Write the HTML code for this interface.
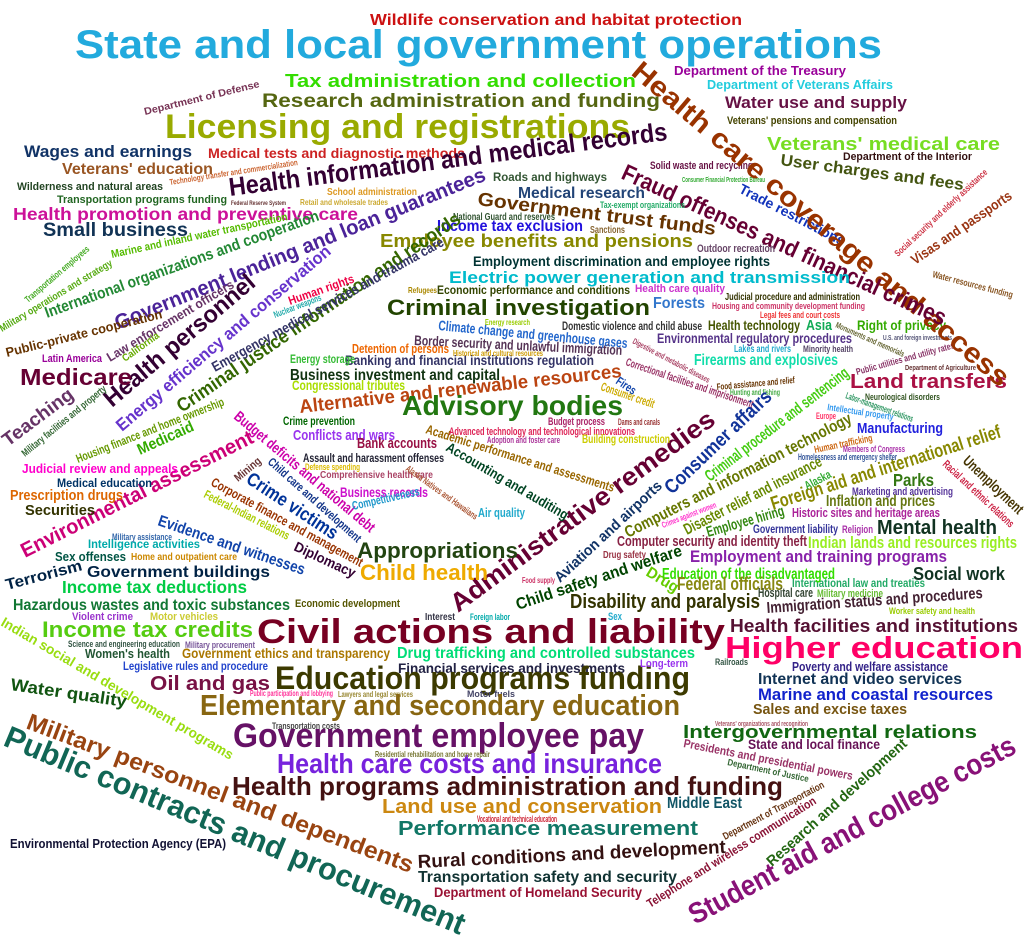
<!DOCTYPE html>
<html><head><meta charset="utf-8">
<style>
html,body{margin:0;padding:0;background:#fff;}
svg{display:block;}
text{font-family:"Liberation Sans","DejaVu Sans",sans-serif;font-weight:bold;}
</style></head>
<body>
<svg id="cloud" width="1024" height="947" viewBox="0 0 1024 947" xmlns="http://www.w3.org/2000/svg">
<rect width="1024" height="947" fill="#fff"/>
<g id="words"></g>
</svg>
<script>
// words, weights (font size), colors, and layout (baseline start/end)
const words = [
"State and local government operations","Wildlife conservation and habitat protection","Tax administration and collection","Research administration and funding","Licensing and registrations","Department of Defense","Wages and earnings","Veterans' education","Medical tests and diagnostic methods","Wilderness and natural areas","Transportation programs funding","Technology transfer and commercialization","Health promotion and preventive care","Small business","School administration","Retail and wholesale trades","Federal Reserve System","Marine and inland water transportation","Health information and medical records","Government lending and loan guarantees",
"Department of the Treasury","Department of Veterans Affairs","Water use and supply","Veterans' pensions and compensation","Veterans' medical care","Department of the Interior","User charges and fees","Solid waste and recycling","Trade restrictions","Social security and elderly assistance","Visas and passports","Water resources funding","Land transfers","Right of privacy","Asia","Judicial procedure and administration","Housing and community development funding","Legal fees and court costs","Lakes and rivers","Minority health",
"Public utilities and utility rates","Monuments and memorials","U.S. and foreign investments","Department of Agriculture","Neurological disorders","Food assistance and relief","Hunting and fishing","Correctional facilities and imprisonment","Digestive and metabolic diseases","Consumer credit","Fires","Labor-management relations","Intellectual property","Health care coverage and access","Fraud offenses and financial crimes","Government trust funds","Employee benefits and pensions","Medical research","Income tax exclusion","Roads and highways",
"Electric power generation and transmission","Employment discrimination and employee rights","Economic performance and conditions","Health care quality","Forests","Climate change and greenhouse gases","Domestic violence and child abuse","Health technology","Border security and unlawful immigration","Banking and financial institutions regulation","Environmental regulatory procedures","Firearms and explosives","Criminal investigation","Business investment and capital","Congressional tributes","Energy storage","Detention of persons","Outdoor recreation","Tax-exempt organizations","National Guard and reserves",
"Sanctions","Consumer Financial Protection Bureau","International organizations and cooperation","Health personnel","Energy efficiency and conservation","Criminal justice information and records","Public-private cooperation","Law enforcement officers","Military operations and strategy","Transportation employees","Emergency medical services and trauma care","Medicare","Teaching","Military facilities and property","Housing finance and home ownership","Medicaid","Environmental assessment","Judicial review and appeals","Medical education","Prescription drugs",
"Securities","Terrorism","Government buildings","Income tax deductions","Sex offenses","Home and outpatient care","Intelligence activities","Military assistance","Evidence and witnesses","Diplomacy","Crime victims","Child care and development","Budget deficits and national debt","Corporate finance and management","Federal-Indian relations","Conflicts and wars","Bank accounts","Assault and harassment offenses","Comprehensive health care","Business records",
"Competitiveness","Alaska Natives and Hawaiians","Human rights","Nuclear weapons","Latin America","California","Crime prevention","Defense spending","Alternative and renewable resources","Advisory bodies","Administrative remedies","Consumer affairs","Criminal procedure and sentencing","Computers and information technology","Disaster relief and insurance","Aviation and airports","Child safety and welfare","Accounting and auditing","Academic performance and assessments","Advanced technology and technological innovations",
"Budget process","Building construction","Adoption and foster care","Dams and canals","Air quality","Foreign aid and international relief","Parks","Marketing and advertising","Inflation and prices","Historic sites and heritage areas","Mental health","Indian lands and resources rights","Government liability","Employment and training programs","Social work","International law and treaties","Unemployment","Racial and ethnic relations","Manufacturing","Human trafficking",
"Members of Congress","Homelessness and emergency shelter","Employee hiring","Alaska","Education of the disadvantaged","Federal officials","Drug","Disability and paralysis","Immigration status and procedures","Hospital care","Military medicine","Computer security and identity theft","Drug safety","Appropriations","Child health","Hazardous wastes and toxic substances","Economic development","Violent crime","Motor vehicles","Income tax credits",
"Civil actions and liability","Science and engineering education","Military procurement","Women's health","Government ethics and transparency","Drug trafficking and controlled substances","Legislative rules and procedure","Financial services and investments","Oil and gas","Education programs funding","Water quality","Indian social and development programs","Public participation and lobbying","Lawyers and legal services","Motor fuels","Elementary and secondary education","Transportation costs","Government employee pay","Health care costs and insurance","Health programs administration and funding",
"Residential rehabilitation and home repair","Land use and conservation","Vocational and technical education","Performance measurement","Rural conditions and development","Transportation safety and security","Department of Homeland Security","Environmental Protection Agency (EPA)","Public contracts and procurement","Military personnel and dependents","Health facilities and institutions","Higher education","Poverty and welfare assistance","Internet and video services","Marine and coastal resources","Sales and excise taxes","Railroads","Long-term","Intergovernmental relations","State and local finance",
"Veterans' organizations and recognition","Middle East","Student aid and college costs","Research and development","Telephone and wireless communication","Department of Transportation","Presidents and presidential powers","Department of Justice","Interest","Foreign labor","Sex","Food supply","Worker safety and health","Europe","Religion","Crimes against women","Mining","Energy research","Historical and cultural resources","Refugees"
];
const weights = [
46,17,22,23,40,11,19,17,15,12,12,9,20,23,11,9,7,12,30,24,
14,14,19,12,22,12,19,12,15,10,15,10,24,15,16,11,10,10,11,10,
10,9,8,8,10,10,9,12,9,13,13,10,10,32,27,22,21,17,17,13,
19,15,13,12,17,15,13,15,15,15,15,18,26,17,15,13,14,12,10,11,
11,8,17,28,20,22,14,14,11,10,15,27,22,11,13,18,24,14,13,16,
16,18,18,20,14,11,13,10,17,15,22,13,16,14,13,16,16,13,11,15,
13,10,13,10,12,11,13,10,22,32,30,23,19,19,17,16,19,15,14,12,
12,13,10,10,14,22,20,12,17,14,24,19,13,19,21,13,16,12,16,11,
10,10,16,13,18,21,18,24,17,14,12,16,11,26,26,18,12,12,12,26,
40,10,10,14,15,17,13,15,24,38,20,15,9,9,10,33,10,40,32,30,
9,24,10,24,22,18,15,14,36,27,21,36,14,18,19,16,10,12,22,15,
8,17,34,16,13,11,13,10,11,10,12,9,10,10,12,9,12,9,9,9
];
const colors = [
"#22aadd","#cc1111","#33dd00","#556611","#99aa00","#773355","#113366","#995522","#cc2222","#224422","#226622","#cc6633","#cc1199","#113355","#dd9922","#ccaa33","#663333","#55bb00","#330033","#4b2399",
"#990099","#22ccdd","#661144","#444400","#77dd22","#331111","#445511","#661144","#1133bb","#cc3344","#993311","#885522","#aa1144","#33aa00","#11aa55","#333300","#cc3366","#ee3333","#22aacc","#554466",
"#883366","#666633","#555577","#663333","#335522","#663300","#44aa44","#993366","#aa4466","#ccaa00","#1144aa","#339966","#3399ee","#993300","#660033","#663300","#888800","#224477","#2211dd","#335533",
"#00bbcc","#003333","#334400","#cc33cc","#3377cc","#2266cc","#333333","#445500","#553355","#333366","#553388","#11ddaa","#224400","#113311","#aadd00","#33bb33","#ee6600","#664466","#22aa66","#335533",
"#886633","#33aa33","#228833","#330033","#6633cc","#336600","#663300","#663366","#55aa11","#44aa22","#333366","#660033","#663366","#336633","#669900","#33aa00","#cc0077","#ff00cc","#003366","#dd6600",
"#333300","#002244","#002244","#00cc44","#005544","#cc8800","#00aaaa","#3366aa","#1144aa","#330033","#003399","#113388","#cc00aa","#993300","#aacc00","#9933ee","#991144","#222233","#aa4466","#cc11cc",
"#2299cc","#aa5533","#ee0044","#22aaaa","#990099","#66aa00","#006600","#ddbb00","#bb4411","#227711","#660033","#113399","#44cc11","#667700","#668800","#113366","#004400","#004422","#996600","#dd2255",
"#aa2266","#cccc00","#aa3399","#993333","#22aacc","#888800","#337711","#553399","#667711","#aa2299","#113322","#99ee22","#333399","#8822aa","#113322","#22aa66","#443300","#cc2244","#2222dd","#cc6611",
"#aa33aa","#335599","#338811","#33aa33","#33dd00","#888811","#66cc00","#333300","#442233","#334433","#66bb33","#882244","#993344","#224411","#eeaa00","#117733","#555500","#9933cc","#cccc33","#55cc11",
"#770022","#335544","#775599","#225533","#aa7700","#00dd77","#2244cc","#222244","#771144","#3c3a00","#115511","#99dd11","#ff3399","#998833","#444466","#886611","#444444","#661166","#7722dd","#441111",
"#777733","#cc8811","#cc2233","#117766","#331111","#113333","#991133","#111133","#116655","#994411","#551133","#ff0066","#332288","#113355","#1122cc","#775511","#335544","#9933ee","#116611","#661155",
"#aa5566","#115566","#881177","#226611","#881133","#663311","#993366","#336633","#333344","#00aaaa","#22aacc","#cc3366","#99cc00","#ff3366","#aa33aa","#ff33cc","#663333","#99cc00","#cc9900","#aa8800"
];
// layout: [x1, y1, x2, y2] baseline start/end
const layout = [
[75,58,882,58],[370,25,742,25],[285,87,636,87],[262,107,660,107],[165,138,630,138],[145,115,260,87],[24,157,192,157],[62,174,213,174],[208,158,465,158],[17,190,163,190],[57,203,227,203],[170,185,298,165],[13,220,358,220],[43,236,188,236],[327,195,417,195],[300,205,388,205],[231,205,286,205],[112,258,288,220],[230,196,668,140],[118,330,487,180],
[674,75,846,75],[707,89,893,89],[725,108,907,108],[727,124,897,124],[767,150,1000,150],[843,160,972,160],[780,165,963,190],[650,169,753,169],[738,192,842,246],[898,257,988,173],[915,265,1013,198],[932,277,1012,298],[850,388,1007,388],[857,330,946,330],[806,330,832,330],[725,300,860,300],[712,309,865,309],[760,318,840,318],[734,352,791,352],[803,352,853,352],
[857,375,955,348],[835,327,903,357],[883,340,952,340],[905,370,976,370],[865,400,940,400],[717,390,795,383],[730,395,780,395],[625,365,752,408],[632,343,708,383],[600,390,653,408],[615,383,633,395],[845,398,912,422],[827,410,893,420],[630,74,1000,388],[620,178,942,326],[477,205,715,235],[380,247,693,247],[518,198,645,198],[437,231,583,231],[493,181,607,181],
[449,283,850,283],[473,266,770,266],[437,294,630,294],[635,292,725,292],[653,308,705,308],[438,330,627,348],[562,330,702,330],[708,330,800,330],[414,345,622,355],[345,365,594,365],[657,343,852,343],[694,365,838,365],[387,315,650,315],[290,380,500,380],[292,390,405,390],[290,363,355,363],[352,353,449,353],[697,252,775,252],[600,208,685,208],[453,220,555,220],
[590,233,625,233],[682,182,765,182],[47,318,320,220],[112,408,257,285],[122,432,332,253],[182,413,462,222],[7,357,163,318],[110,362,235,287],[2,332,113,265],[28,303,90,250],[215,372,445,245],[20,385,132,385],[8,447,75,397],[25,457,107,390],[78,463,225,405],[140,455,195,430],[25,558,255,442],[22,473,178,473],[57,487,152,487],[10,500,123,500],
[25,515,95,515],[7,590,83,570],[87,577,270,577],[62,593,247,593],[55,561,126,561],[131,560,237,560],[88,548,200,548],[112,540,172,540],[157,525,303,575],[293,550,353,578],[245,482,333,540],[267,463,357,543],[233,418,370,533],[210,485,360,567],[203,497,287,540],[293,440,395,440],[357,448,437,448],[303,462,444,462],[320,478,433,478],[340,497,428,497],
[353,510,420,495],[405,470,475,520],[290,305,355,282],[275,318,322,300],[42,362,102,362],[125,362,160,337],[283,425,355,425],[305,470,360,470],[300,413,622,377],[402,415,623,415],[458,613,717,423],[672,495,773,398],[710,482,850,375],[628,538,853,422],[687,535,823,465],[560,583,663,487],[518,610,683,555],[445,450,565,520],[425,433,613,492],[449,435,635,435],
[548,425,605,425],[582,443,670,443],[487,443,560,443],[618,425,660,425],[478,517,525,517],[773,510,1002,437],[893,486,934,486],[852,495,953,495],[826,506,935,506],[792,517,940,517],[877,534,997,534],[808,548,1017,548],[753,533,838,533],[690,562,947,562],[913,580,1005,580],[792,587,925,587],[962,462,1018,515],[942,465,1010,528],[857,433,943,433],[815,453,873,441],
[843,452,905,452],[798,460,897,460],[708,537,785,515],[807,490,832,477],[662,579,835,579],[677,590,783,590],[645,575,675,593],[570,608,760,608],[767,613,983,598],[758,597,813,597],[817,597,883,597],[617,546,807,546],[603,558,646,558],[357,558,518,558],[360,580,488,580],[13,610,290,610],[295,607,400,607],[72,620,133,620],[150,620,218,620],[42,637,253,637],
[257,643,725,643],[68,647,180,647],[185,648,255,648],[85,658,170,658],[182,658,390,658],[397,658,695,658],[123,670,268,670],[398,673,625,673],[150,690,270,690],[275,689,690,689],[10,690,126,707],[0,625,230,760],[250,696,333,696],[338,697,413,697],[467,697,515,697],[200,715,680,715],[272,729,340,729],[233,747,644,747],[277,773,662,773],[232,795,783,795],
[375,757,490,757],[382,813,662,813],[477,822,557,822],[398,835,698,835],[418,868,726,853],[418,882,677,882],[434,897,642,897],[10,848,226,848],[2,745,460,935],[25,728,410,873],[730,632,1018,632],[725,658,1023,658],[792,671,948,671],[758,684,962,684],[758,700,993,700],[753,714,907,714],[715,665,748,665],[640,667,688,667],[683,738,977,738],[748,749,880,749],
[715,726,808,726],[667,808,742,808],[695,925,1018,752],[772,867,908,745],[650,908,817,803],[725,840,825,787],[683,747,852,780],[727,765,808,782],[425,620,455,620],[470,620,510,620],[608,620,622,620],[522,583,555,583],[889,614,975,614],[816,419,836,419],[842,533,873,533],[663,528,717,507],[238,482,262,462],[485,325,530,325],[453,356,543,356],[408,293,437,293]
];

const g = document.getElementById('words');
const NS = 'http://www.w3.org/2000/svg';
function slug(s){return s.toLowerCase().replace(/[^a-z0-9]+/g,'-').replace(/^-|-$/g,'');}
function fontPx(w){ return w >= 18 ? w * 0.86 : w * 0.93; }
for (let i = 0; i < words.length; i++) {
  const p = layout[i]; if (!p) continue;
  const dx = p[2]-p[0], dy = p[3]-p[1];
  const len = Math.sqrt(dx*dx+dy*dy);
  const ang = Math.atan2(dy, dx)*180/Math.PI;
  const t = document.createElementNS(NS,'text');
  t.setAttribute('x', p[0]);
  t.setAttribute('y', p[1]);
  t.setAttribute('font-size', fontPx(weights[i]).toFixed(1));
  t.setAttribute('fill', colors[i] || '#333');
  t.setAttribute('textLength', Math.max(4,len).toFixed(1));
  t.setAttribute('lengthAdjust', 'spacingAndGlyphs');
  if (Math.abs(ang) > 0.01) t.setAttribute('transform', 'rotate(' + ang.toFixed(2) + ' ' + p[0] + ' ' + p[1] + ')');
  t.textContent = words[i];
  
  
  g.appendChild(t);
}
</script>
</body></html>
